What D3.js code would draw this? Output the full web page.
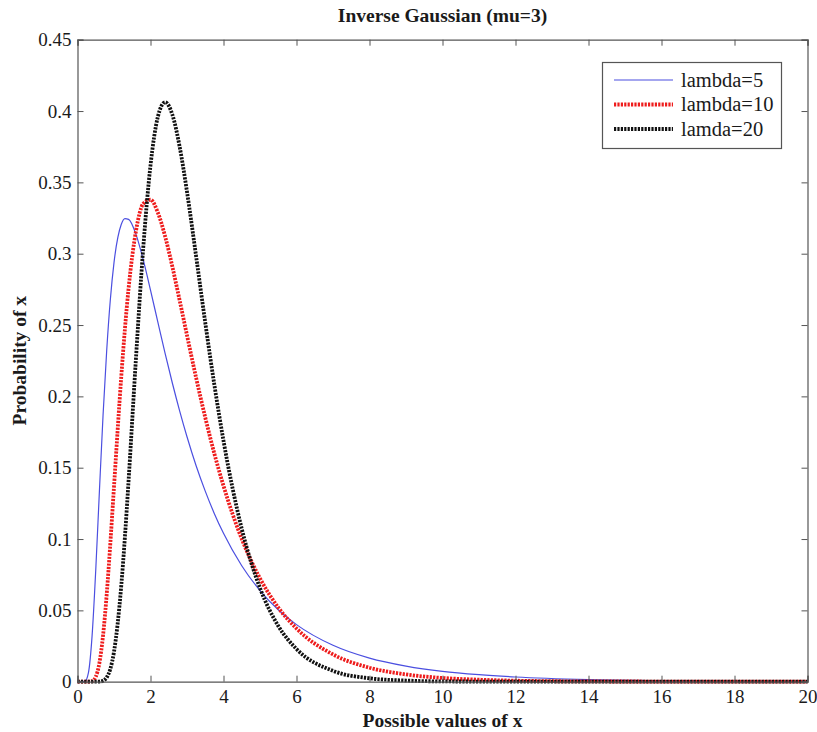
<!DOCTYPE html>
<html>
<head>
<meta charset="utf-8">
<script src="https://cdn.jsdelivr.net/npm/d3@7"></script>
<style>
  body { margin: 0; background: #fff; }
  svg text { font-family: "Liberation Serif", "DejaVu Serif", serif !important; fill: #1a1a1a; }
</style>
</head>
<body>
<script>
// x positions and density values
const xs = [0, 0.1, 0.2, 0.3, 0.4, 0.5, 0.6, 0.7, 0.8, 0.9, 1.0, 1.2, 1.3, 1.4, 1.6, 1.8, 2.0, 2.2, 2.4, 2.6, 2.8, 3.0,
            3.25, 3.5, 3.75, 4.0, 4.5, 5.0, 5.5, 6, 7, 8, 9, 10, 11, 12, 14, 16, 18, 20];
const lambda5 = [0, 0, 0.0002, 0.0064, 0.0323, 0.0783, 0.1334, 0.1867, 0.2322, 0.2679, 0.2937, 0.3206, 0.3246, 0.3241,
                 0.3137, 0.2958, 0.2745, 0.2522, 0.2301, 0.2092, 0.1897, 0.1717, 0.1514, 0.1336, 0.1178, 0.1040,
                 0.0813, 0.0639, 0.0504, 0.0400, 0.0255, 0.0165, 0.0109, 0.0072, 0.0049, 0.0033, 0.0015, 0.0007,
                 0.0004, 0.0002];
const lambda10 = [0, 0, 0, 0, 0.0004, 0.0034, 0.0131, 0.0324, 0.0612, 0.0971, 0.1367, 0.2141, 0.2475, 0.2758,
                  0.3156, 0.3350, 0.3379, 0.3289, 0.3122, 0.2908, 0.2671, 0.2428, 0.2130, 0.1852, 0.1598, 0.1373,
                  0.1001, 0.0724, 0.0520, 0.0373, 0.0191, 0.0098, 0.0051, 0.0026, 0.0014, 0.0007, 0.0002, 0.0001,
                  0, 0];
const lamda20 = [0, 0, 0, 0, 0, 0, 0.0001, 0.0007, 0.0030, 0.0090, 0.0210, 0.0676, 0.1018, 0.1412, 0.2260,
                 0.3037, 0.3619, 0.3958, 0.4062, 0.3974, 0.3748, 0.3434, 0.2981, 0.2517, 0.2080, 0.1689, 0.1072,
                 0.0656, 0.0391, 0.0229, 0.0076, 0.0024, 0.0008, 0.0002, 0.0001, 0, 0, 0, 0, 0];
const seriesNames = ["lambda=5", "lambda=10", "lamda=20"];
const xTicks = [0, 2, 4, 6, 8, 10, 12, 14, 16, 18, 20];
const yTicks = [0, 0.05, 0.1, 0.15, 0.2, 0.25, 0.3, 0.35, 0.4, 0.45];

const W = 817, H = 732;
const m = { left: 77.5, right: 9.5, top: 39.7, bottom: 50.3 };

const svg = d3.select("body").append("svg")
  .attr("width", W).attr("height", H);

const x = d3.scaleLinear().domain([0, 20]).range([m.left, W - m.right]);
const y = d3.scaleLinear().domain([0, 0.45]).range([H - m.bottom, m.top]);

const styles = [
  { data: lambda5, color: "#4b4fe0", width: 1.2, dash: null },
  { data: lambda10, color: "#ee1c1c", width: 3.8, dash: "2.2,1.2" },
  { data: lamda20, color: "#111", width: 3.8, dash: "2.2,1.2" }
];

const line = d3.line()
  .x(d => x(d[0]))
  .y(d => y(d[1]))
  .curve(d3.curveMonotoneX);

svg.append("g").selectAll("path")
  .data(styles)
  .enter()
  .append("path")
  .attr("d", s => line(xs.map((v, i) => [v, s.data[i]])))
  .attr("fill", "none")
  .attr("stroke", s => s.color)
  .attr("stroke-width", s => s.width)
  .attr("stroke-dasharray", s => s.dash);

// axes, ticks inside like matlab
const axisColor = "#555";
const gx = svg.append("g").attr("transform", `translate(0,${H - m.bottom})`)
  .call(d3.axisBottom(x).tickValues(xTicks).tickSize(-6).tickPadding(8).tickFormat(d3.format("d")));
const gxt = svg.append("g").attr("transform", `translate(0,${m.top})`)
  .call(d3.axisTop(x).tickValues(xTicks).tickSize(-6).tickFormat(""));
const gy = svg.append("g").attr("transform", `translate(${m.left},0)`)
  .call(d3.axisLeft(y).tickValues(yTicks).tickSize(-6).tickPadding(6).tickFormat(d => d === 0 ? "0" : String(+d.toFixed(2))));
const gyr = svg.append("g").attr("transform", `translate(${W - m.right},0)`)
  .call(d3.axisRight(y).tickValues(yTicks).tickSize(-6).tickFormat(""));

[gx, gxt, gy, gyr].forEach(g => {
  g.selectAll("path.domain").attr("stroke", axisColor).attr("stroke-width", 1.2);
  g.selectAll("line").attr("stroke", axisColor);
  g.selectAll("text").style("font-size", "19px");
});

// title and labels
svg.append("text").attr("x", (m.left + W - m.right) / 2).attr("y", 22)
  .attr("text-anchor", "middle").style("font-weight", "bold").style("font-size", "19.5px")
  .text("Inverse Gaussian (mu=3)");
svg.append("text").attr("x", (m.left + W - m.right) / 2).attr("y", 727)
  .attr("text-anchor", "middle").style("font-weight", "bold").style("font-size", "19.5px")
  .text("Possible values of x");
svg.append("text").attr("transform", `translate(26,${(m.top + H - m.bottom) / 2}) rotate(-90)`)
  .attr("text-anchor", "middle").style("font-weight", "bold").style("font-size", "19.5px")
  .text("Probability of x");

// legend
const lg = svg.append("g");
lg.append("rect").attr("x", 602.5).attr("y", 62.5).attr("width", 179).attr("height", 86)
  .attr("fill", "#fff").attr("stroke", axisColor).attr("stroke-width", 1.2);
const rows = lg.selectAll("g.row")
  .data(styles)
  .enter()
  .append("g")
  .attr("transform", (s, i) => `translate(0,${80 + i * 24.5})`);
rows.append("line").attr("x1", 614).attr("x2", 673).attr("y1", 0).attr("y2", 0)
  .attr("stroke", s => s.color).attr("stroke-width", s => s.width)
  .attr("stroke-dasharray", s => s.dash);
rows.append("text").attr("x", 681).attr("y", 6.5).style("font-size", "20.5px")
  .text((s, i) => seriesNames[i]);
</script>
</body>
</html>
